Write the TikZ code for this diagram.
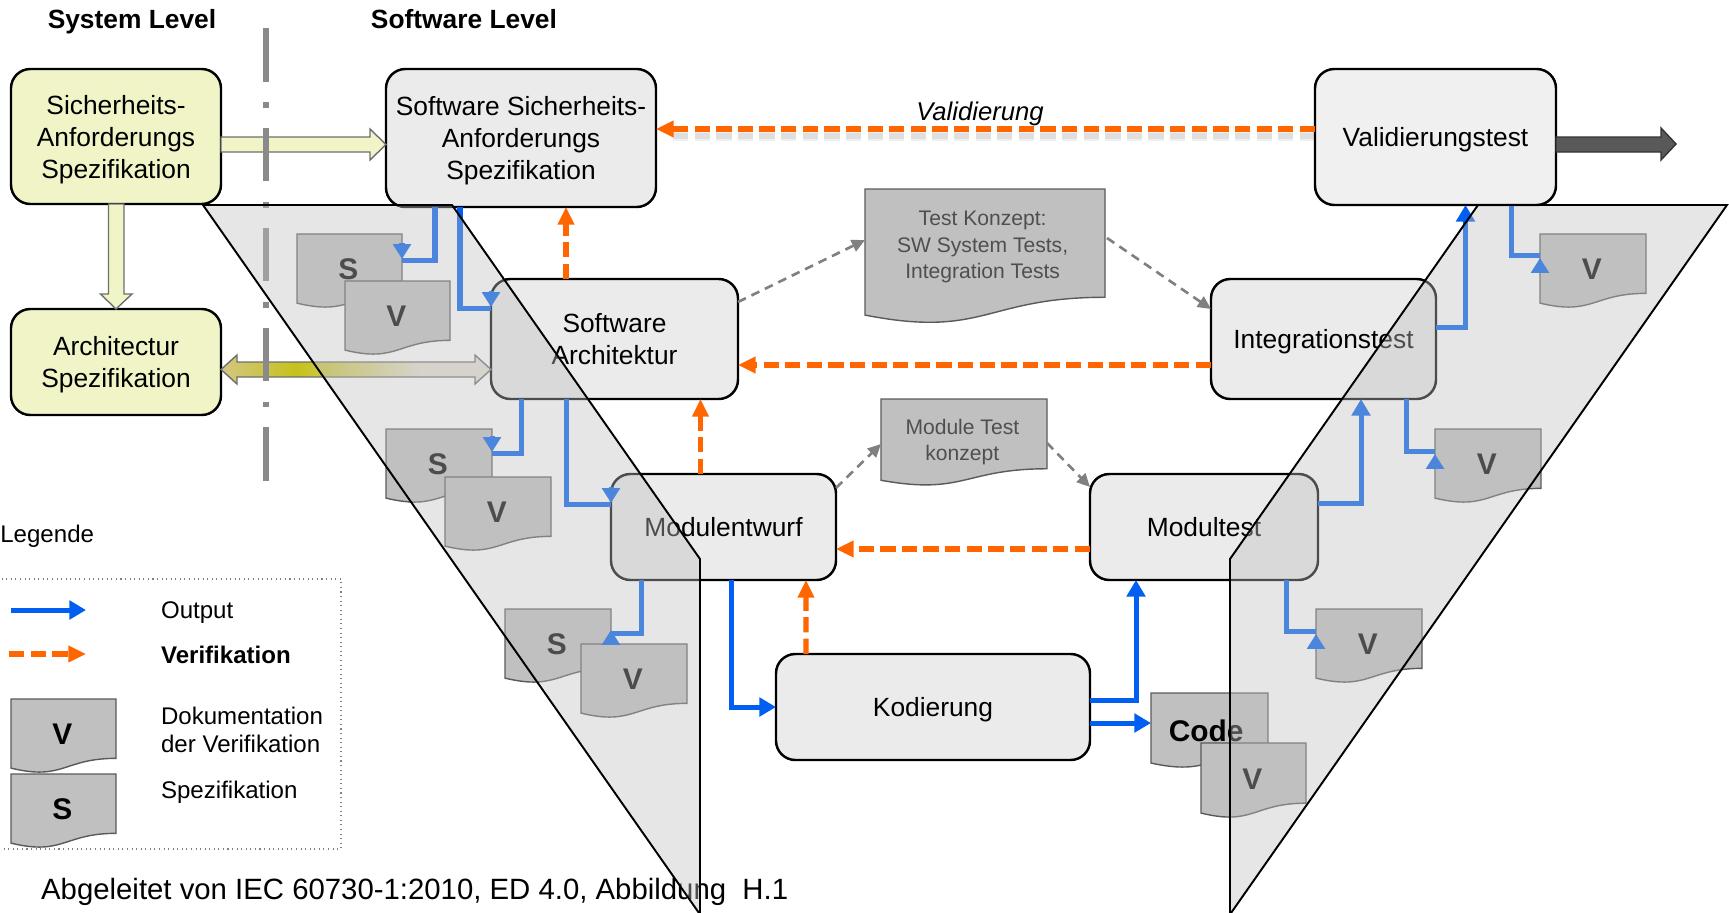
\documentclass[tikz,border=0pt]{standalone}
\usepackage{fontspec}
\setmainfont{Liberation Sans}
\usetikzlibrary{arrows.meta,calc}

\definecolor{sysyellow}{HTML}{F1F4C6}
\definecolor{boxgray}{HTML}{EBEBEB}
\definecolor{valgray}{HTML}{F0F0F0}
\definecolor{docgray}{HTML}{C0C0C0}
\definecolor{docedge}{HTML}{5A5A5A}
\definecolor{outblue}{HTML}{005FF0}
\definecolor{verorange}{HTML}{FF6600}
\definecolor{flowgray}{HTML}{808080}
\definecolor{levelgray}{HTML}{8A8A8A}
\definecolor{tkgray}{HTML}{4F4F4F}
\definecolor{archA}{HTML}{D2C683}
\definecolor{archB}{HTML}{C6C11C}
\definecolor{archC}{HTML}{E4E1D4}
\definecolor{archedge}{HTML}{6E6E6E}
\definecolor{darkfill}{HTML}{595959}

\pgfdeclarehorizontalshading{archshade}{100bp}{color(0bp)=(archA); color(25bp)=(archA); color(39bp)=(archB); color(62bp)=(archC); color(100bp)=(archC)}

\newcommand{\pxu}{0.02cm}
\newcommand{\docu}[6][]{%
  \begin{scope}[shift={(#3)}]
    \filldraw[docshape] (0,0) coordinate (#2-nw) -- (#4,0) coordinate (#2-ne) -- (#4,0.802*#5)
      .. controls (0.5*#4,0.802*#5) and (0.5*#4,1.1075*#5) .. (0,0.934*#5) -- cycle;
    \node[doclabel,#1] (#2) at (0.49*#4,0.48*#5) {#6};
  \end{scope}}

\tikzset{
  box/.style={draw=black, line width=1.4pt, rounded corners=11pt, fill=boxgray, align=center,
    inner sep=0pt, outer sep=0pt, font=\fontsize{15}{18.2}\selectfont, text depth=-1.8pt},
  sysbox/.style={box, fill=sysyellow},
  boxsize/.style 2 args={minimum width=#1*\pxu, minimum height=#2*\pxu},
  head/.style={font=\bfseries\fontsize{15}{18}\selectfont, inner sep=0pt, anchor=base},
  docshape/.style={fill=docgray, draw=docedge, line width=0.8pt},
  doclabel/.style={font=\bfseries\fontsize{17}{20}\selectfont, inner sep=0pt},
  outwire/.style={draw=outblue, line width=2.85pt},
  output/.style={outwire, -{Triangle[length=9.5pt,width=10.5pt]}},
  outtip/.style={outwire, -{Triangle[length=8.5pt,width=10pt]}},
  verif/.style={draw=verorange, line width=3.1pt, dash pattern=on 8.7pt off 3.6pt,
    -{Triangle[length=10pt,width=9pt]}},
  testflow/.style={draw=flowgray, line width=1.5pt, dash pattern=on 5pt off 3.5pt,
    -{Triangle[length=7.5pt,width=7pt]}},
  sysarrow/.style={fill=sysyellow, draw=archedge, line width=0.8pt},
  archarrow/.style={shading=archshade, draw=archedge, line width=0.8pt},
  darkarrow/.style={fill=darkfill, draw=black!80, line width=0.8pt},
  levelline/.style={draw=levelgray, line width=3.1pt, dash pattern=on 30.3pt off 11.9pt on 3.2pt off 11.4pt},
  band/.style={fill=docgray, fill opacity=0.4, draw=black, line width=1.1pt},
  legtext/.style={font=\fontsize{13.7}{15.9}\selectfont, inner sep=0pt, anchor=west, align=left},
  legframe/.style={draw=gray, dotted, line width=0.6pt}
}

\begin{document}
\begin{tikzpicture}[x=\pxu, y=-\pxu]
\useasboundingbox (0,0) rectangle (1729,913);

\node[head] (syslvl) at (132,28) {System Level};
\node[head] (swlvl) at (464,28) {Software Level};

\node[sysbox, boxsize={210}{135}] (sysreq) at (116,136.5) {Sicherheits-\\Anforderungs\\Spezifikation};
\node[sysbox, boxsize={210}{106}, text depth=-0.6pt] (sysarch) at (116,362) {Architectur\\Spezifikation};
\node[box, boxsize={270}{138}] (swreq) at (521,138) {Software Sicherheits-\\Anforderungs\\Spezifikation};
\node[box, boxsize={247}{120}, text depth=-1.25pt] (swarch) at (614.5,339) {Software\\Architektur};
\node[box, boxsize={225}{106}, text depth=-1.25pt] (modent) at (723.5,527) {Modulentwurf};
\node[box, boxsize={314}{106}] (kod) at (933,707) {Kodierung};
\node[box, boxsize={228}{106}, text depth=-1.25pt] (modtest) at (1204,527) {Modultest};
\node[box, boxsize={225}{120}] (inttest) at (1323.5,339) {Integrationstest};
\node[box, fill=valgray, boxsize={241}{136}] (valtest) at (1435.5,137) {Validierungstest};

\draw[sysarrow] ($(sysreq.east)+(0,0.5)$) -- ++(149,0) -- ++(0,-8) -- ($(swreq.west)+(0,6.5)$)
  -- ++(-16,15.5) -- ++(0,-8) -- ++(-149,0) -- cycle;
\draw[sysarrow] ($(sysreq.south)+(-7.5,0)$) -- ++(0,90) -- ++(-8,0) -- (sysarch.north)
  -- ++(16,-15) -- ++(-8,0) -- ++(0,-90) -- cycle;
\shadedraw[archarrow] ($(sysarch.east)+(0,7.5)$) -- ++(16,-14.5) -- ++(0,7) -- ++(238,0) -- ++(0,-7)
  -- ($(swarch.west)+(0,30.5)$) -- ++(-16,14.5) -- ++(0,-7) -- ++(-238,0) -- ++(0,7) -- cycle;
\draw[darkarrow] (valtest.east) -- ++(105,0) -- ++(0,-9) -- ++(15,16) -- ++(-15,16) -- ++(0,-8)
  -- ++(-105,0) -- cycle;

\docu{sd1}{297,234}{105}{74}{S}
\docu{vd1}{345,281}{105}{74}{V}
\docu{sd2}{386,429}{106}{74}{S}
\docu{vd2}{445,477}{106}{74}{V}
\docu{sd3}{505,609}{106}{74}{S}
\docu{vd3}{581,644}{106}{74}{V}
\docu{vt1}{1540,234}{106}{74}{V}
\docu{vt2}{1435,429}{106}{74}{V}
\docu{vt3}{1316,609}{106}{74}{V}
\docu[xshift=-1.2pt, yshift=-1.2pt]{code}{1151,693}{117}{75}{Code}
\docu{vcode}{1201,743}{105}{75}{V}
\docu[font=\fontsize{12}{15.1}\selectfont, text=tkgray, align=center, yshift=3.8pt]{tk}{865,189}{240}{135}{Test Konzept:\\SW System Tests,\\Integration Tests}
\docu[font=\fontsize{12}{14.8}\selectfont, text=tkgray, align=center, yshift=-1pt]{mtk}{881,399}{166}{87}{Module Test\\konzept}

\draw[outwire] ($(swreq.south)+(-86,0)$) |- ($(sd1-ne)+(0,26)$) coordinate (b1);
\draw[outtip] ($(b1)+(0,-17)$) -- ($(b1)+(0,-1)$);
\draw[outwire] ($(swreq.south)+(-61,0)$) |- ($(swarch.north west)+(0,29)$) coordinate (b2);
\draw[outtip] ($(b2)+(0,-17)$) -- ($(b2)+(0,-1)$);
\draw[outwire] ($(swarch.south)+(-93.5,0)$) |- ($(sd2-ne)+(0,24)$) coordinate (b3);
\draw[outtip] ($(b3)+(0,-17)$) -- ($(b3)+(0,-1)$);
\draw[outwire] ($(swarch.south)+(-48.5,0)$) |- ($(modent.north west)+(0,30)$) coordinate (b4);
\draw[outtip] ($(b4)+(0,-17)$) -- ($(b4)+(0,-1)$);
\draw[outwire] ($(modent.south)+(-82.5,0)$) |- ($(sd3-ne)+(0,24)$) coordinate (b5);
\draw[outtip] ($(b5)+(0,12)$) -- ($(b5)+(0,-3)$);
\draw[output] ($(modent.south)+(7.5,0)$) |- (kod.west);
\draw[output] ($(kod.east)+(0,-7)$) -| ($(modtest.south)+(-68,0)$);
\draw[output] ($(kod.east)+(0,16)$) -- ($(code-nw)+(0,30)$);
\draw[output] ($(modtest.east)+(0,-24)$) -| ($(inttest.south)+(37.5,0)$);
\draw[outwire] ($(modtest.south)+(82,0)$) |- ($(vt3-nw)+(0,22)$) coordinate (b10);
\draw[outtip] ($(b10)+(0,18)$) -- ($(b10)+(0,3)$);
\draw[outwire] ($(inttest.south)+(82.5,0)$) |- ($(vt2-nw)+(0,22)$) coordinate (b11);
\draw[outtip] ($(b11)+(0,18)$) -- ($(b11)+(0,3)$);
\draw[output] ($(inttest.east)+(0,-12)$) -| ($(valtest.south)+(30,0)$);
\draw[outwire] ($(valtest.south)+(75.5,0)$) |- ($(vt1-nw)+(0,21)$) coordinate (b13);
\draw[outtip] ($(b13)+(0,18)$) -- ($(b13)+(0,3)$);

\draw[verif, -, draw=black, draw opacity=0.06, line width=6pt] ($(valtest.west)+(0,-1)$) -- ($(swreq.east)+(16,-2)$);
\draw[verif, -, draw=black, draw opacity=0.07, line width=3.5pt] ($(valtest.west)+(0,-1)$) -- ($(swreq.east)+(16,-2)$);
\draw[verif] ($(valtest.west)+(0,-8)$) -- ($(swreq.east)+(0,-9)$);
\node[font=\itshape\fontsize{14.6}{17}\selectfont, inner sep=0pt] (vallbl) at (980,114.3) {Validierung};
\draw[verif] ($(inttest.west)+(0,26)$) -- ($(swarch.east)+(0,26)$);
\draw[verif] ($(modtest.west)+(0,22)$) -- ($(modent.east)+(0,22)$);
\draw[verif] ($(kod.north)+(-127,0)$) -- ($(modent.south)+(82.5,0)$);
\draw[verif] ($(modent.north)+(-23,0)$) -- ($(swarch.south)+(86,0)$);
\draw[verif] ($(swarch.north)+(-48.5,0)$) -- ($(swreq.south)+(45,0)$);

\draw[testflow] ($(swarch.east)+(0,-37)$) -- ($(tk-nw)+(0,51)$);
\draw[testflow] ($(tk-ne)+(2,49)$) -- ($(inttest.west)+(0,-30)$);
\draw[testflow] ($(modent.east)+(0,-39)$) -- ($(mtk-nw)+(0,45)$);
\draw[testflow] ($(mtk-ne)+(0,44)$) -- ($(modtest.west)+(0,-40)$);

\node[legtext] (leg) at (0,536) {Legende};
\draw[legframe] (-5,579) rectangle (341,849);
\coordinate (lgo1) at (11,610);
\coordinate (lgo2) at (86,610);
\draw[output] (lgo1) -- (lgo2);
\coordinate (lgr1) at (9,654);
\coordinate (lgr2) at (86,654);
\draw[verif] (lgr1) -- (lgr2);
\docu{lgv}{11,699}{105}{74}{V}
\docu{lgs}{11,774}{105}{74}{S}
\node[legtext] (lgout) at (160.7,613) {Output};
\node[legtext, font=\bfseries\fontsize{13.7}{15.9}\selectfont] (lgver) at (160.7,655) {Verifikation};
\node[legtext] (lgdok) at (160.7,729.5) {Dokumentation\\der Verifikation};
\node[legtext] (lgspez) at (160.7,792) {Spezifikation};

\node[anchor=west, inner sep=0pt, font=\fontsize{16.7}{20}\selectfont] (src) at (40.8,891.5)
  {Abgeleitet von IEC 60730-1:2010, ED 4.0, Abbildung\ \ H.1};

\draw[levelline] (266,28.3) -- (266,481.7);

\draw[band] (203,205) -- (452,205) -- (700,559) -- (700,913) -- (699,913) -- cycle;
\draw[band] (1478,205) -- (1727,205) -- (1231,913) -- (1230,913) -- (1230,559) -- cycle;
\end{tikzpicture}
\end{document}
